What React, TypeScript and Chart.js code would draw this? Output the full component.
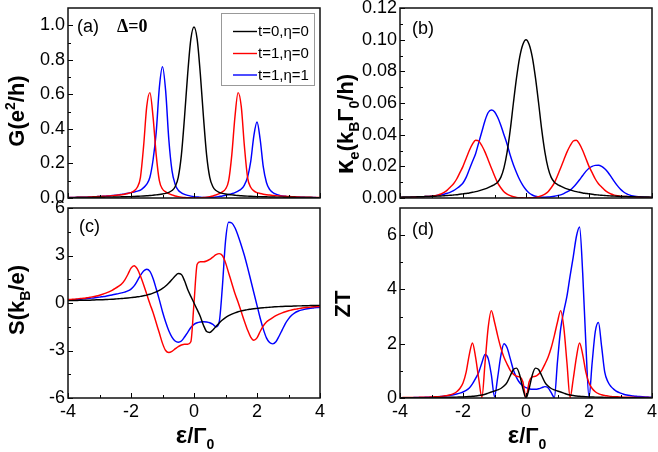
import React, { useEffect, useRef } from 'react';
import { Chart, registerables } from 'chart.js';
Chart.register(...registerables);

const W = 658;
const H = 452;
const FONT = '"Liberation Sans", Arial, sans-serif';
const SERIF = '"Liberation Serif", "Times New Roman", serif';

// energy grid ε/Γ0
const EPS = [-4, -3.9, -3.8, -3.7, -3.6, -3.5, -3.4, -3.3, -3.2, -3.1, -3, -2.9, -2.8, -2.7, -2.6, -2.5, -2.4, -2.3, -2.2, -2.1, -2, -1.9, -1.8, -1.7, -1.6, -1.5, -1.4, -1.3, -1.2, -1.1, -1, -0.9, -0.8, -0.7, -0.6, -0.5, -0.4, -0.3, -0.2, -0.1, 0, 0.1, 0.2, 0.3, 0.4, 0.5, 0.6, 0.7, 0.8, 0.9, 1, 1.1, 1.2, 1.3, 1.4, 1.5, 1.6, 1.7, 1.8, 1.9, 2, 2.1, 2.2, 2.3, 2.4, 2.5, 2.6, 2.7, 2.8, 2.9, 3, 3.1, 3.2, 3.3, 3.4, 3.5, 3.6, 3.7, 3.8, 3.9, 4];

const LEGEND = ['t=0,η=0', 't=1,η=0', 't=1,η=1'];
const COLORS = ['#000000', '#ff0000', '#0000ff'];

// (a) G (e^2/h)
const G_T0 = [.002, .002, .002, .003, .003, .003, .003, .003, .004, .004, .004, .004, .005, .005, .005, .006, .006, .007, .007, .008, .008, .009, .010, .011, .012, .013, .014, .016, .018, .020, .023, .027, .033, .043, .065, .12, .25, .47, .72, .92, .99, .92, .72, .47, .25, .12, .065, .043, .033, .027, .023, .020, .018, .016, .014, .013, .012, .011, .010, .009, .008, .008, .007, .007, .006, .006, .005, .005, .005, .004, .004, .004, .004, .003, .003, .003, .003, .003, .002, .002, .002];
const G_T1 = [.003, .003, .003, .004, .004, .005, .005, .006, .007, .008, .009, .010, .011, .012, .013, .015, .017, .019, .022, .026, .031, .041, .062, .12, .30, .53, .61, .47, .25, .10, .052, .035, .025, .018, .012, .008, .005, .003, .002, .001, 0, .001, .002, .003, .005, .008, .012, .018, .025, .035, .052, .10, .25, .47, .61, .53, .30, .12, .062, .041, .031, .026, .022, .019, .017, .015, .013, .012, .011, .010, .009, .008, .007, .006, .005, .005, .004, .004, .003, .003, .003];
const G_T1E1 = [.003, .003, .003, .004, .004, .005, .005, .006, .007, .008, .009, .010, .011, .012, .014, .016, .018, .021, .024, .028, .031, .035, .040, .046, .06, .08, .12, .22, .38, .64, .76, .62, .34, .16, .08, .045, .03, .021, .015, .011, .008, .006, .004, .003, .003, .003, .004, .006, .009, .012, .016, .020, .025, .031, .04, .052, .075, .12, .21, .36, .44, .34, .18, .09, .05, .032, .022, .016, .012, .010, .008, .007, .006, .005, .004, .004, .003, .003, .003, .002, .002];

// (b) κe (kB Γ0 / h)
const K_T0 = [.0005, .0006, .0006, .0006, .0007, .0007, .0008, .0008, .0009, .0009, .0010, .0011, .0012, .0013, .0014, .0016, .0017, .0019, .0021, .0024, .0026, .0029, .0032, .0036, .0040, .0045, .0051, .0058, .0066, .0075, .0085, .010, .013, .019, .029, .043, .060, .076, .089, .097, .100, .097, .089, .076, .060, .043, .029, .019, .013, .010, .0085, .0075, .0066, .0058, .0051, .0045, .0040, .0036, .0032, .0029, .0026, .0024, .0021, .0019, .0017, .0016, .0014, .0013, .0012, .0011, .0010, .0009, .0009, .0008, .0008, .0007, .0007, .0006, .0006, .0006, .0005];
const K_T1 = [.0003, .0003, .0004, .0004, .0005, .0006, .0007, .0008, .0009, .0010, .0012, .0014, .0018, .0025, .0035, .005, .007, .009, .012, .016, .020, .025, .030, .034, .0365, .036, .033, .029, .024, .019, .014, .0095, .0065, .004, .0025, .0015, .0008, .0004, .0002, .0001, 0, .0001, .0002, .0004, .0008, .0015, .0025, .004, .0065, .0095, .014, .019, .024, .029, .033, .036, .0365, .034, .030, .025, .020, .016, .012, .009, .007, .005, .0035, .0025, .0018, .0014, .0012, .0010, .0009, .0008, .0007, .0006, .0005, .0004, .0004, .0003, .0003];
const K_T1E1 = [.0003, .0003, .0004, .0004, .0005, .0006, .0007, .0008, .0009, .0010, .0012, .0014, .0017, .0020, .0024, .003, .0037, .0047, .006, .0075, .0095, .013, .018, .023, .028, .035, .042, .049, .054, .0556, .0545, .051, .046, .040, .034, .027, .021, .016, .0115, .008, .0052, .0032, .0019, .0011, .0007, .0005, .0005, .0006, .0008, .0011, .0015, .002, .0028, .0038, .005, .0068, .009, .0115, .0142, .0168, .0188, .0200, .0206, .0207, .0200, .0185, .0163, .0135, .0105, .0078, .0055, .0038, .0026, .0018, .0013, .001, .0008, .0006, .0005, .0004, .0003];

// (c) S (kB/e)
const S_T0 = [.15, .15, .16, .16, .17, .17, .18, .18, .19, .20, .20, .21, .22, .23, .24, .25, .27, .28, .30, .32, .34, .36, .39, .42, .46, .50, .55, .62, .70, .80, .92, 1.07, 1.26, 1.48, 1.70, 1.86, 1.80, 1.40, .85, .42, 0, -.42, -.85, -1.40, -1.80, -1.86, -1.70, -1.48, -1.26, -1.07, -.92, -.80, -.70, -.62, -.55, -.50, -.46, -.42, -.39, -.36, -.34, -.32, -.30, -.28, -.27, -.25, -.24, -.23, -.22, -.21, -.20, -.20, -.19, -.18, -.18, -.17, -.17, -.16, -.16, -.15, -.15];
const S_T1 = [.22, .23, .24, .26, .28, .30, .33, .36, .40, .44, .49, .55, .62, .70, .80, .92, 1.05, 1.2, 1.45, 1.8, 2.2, 2.35, 2.15, 1.7, 1.15, .55, -.05, -.6, -1.25, -1.9, -2.55, -3.0, -3.12, -3.05, -2.9, -2.75, -2.65, -2.6, -2.6, -2.45, 0, 2.45, 2.6, 2.6, 2.65, 2.75, 2.9, 3.05, 3.12, 3.0, 2.55, 1.9, 1.25, .6, .05, -.55, -1.15, -1.7, -2.15, -2.35, -2.2, -1.8, -1.45, -1.2, -1.05, -.92, -.8, -.7, -.62, -.55, -.49, -.44, -.40, -.36, -.33, -.30, -.28, -.26, -.24, -.23, -.22];
const S_T1E1 = [.18, .19, .21, .22, .24, .26, .28, .30, .32, .35, .37, .40, .43, .47, .51, .55, .59, .64, .69, .76, .88, 1.08, 1.40, 1.75, 2.02, 2.13, 2.0, 1.55, .9, .2, -.55, -1.2, -1.75, -2.15, -2.4, -2.48, -2.4, -2.15, -1.85, -1.55, -1.35, -1.25, -1.2, -1.18, -1.2, -1.25, -1.35, -1.5, -1.2, 1.0, 3.9, 5.1, 5.05, 4.75, 4.25, 3.65, 3.0, 2.25, 1.45, .65, -.15, -.95, -1.65, -2.2, -2.5, -2.58, -2.45, -2.1, -1.7, -1.3, -1.0, -.78, -.62, -.52, -.45, -.4, -.36, -.33, -.31, -.29, -.27];

// (d) ZT
const Z_T0 = [.006, .007, .007, .008, .008, .009, .010, .011, .012, .013, .014, .015, .017, .019, .021, .023, .026, .029, .032, .036, .040, .045, .052, .062, .075, .09, .11, .14, .18, .22, .26, .30, .35, .44, .58, .82, 1.05, 1.1, .85, .35, 0, .35, .85, 1.1, 1.05, .82, .58, .44, .35, .30, .26, .22, .18, .14, .11, .09, .075, .062, .052, .045, .040, .036, .032, .029, .026, .023, .021, .019, .017, .015, .014, .013, .012, .011, .010, .009, .008, .008, .007, .007, .006];
const Z_T1 = [.014, .015, .016, .018, .020, .022, .024, .027, .030, .033, .038, .043, .05, .06, .075, .09, .12, .16, .23, .35, .55, .95, 1.6, 2.03, 1.5, .7, .02, 1.3, 2.6, 3.22, 2.8, 2.3, 1.85, 1.5, 1.25, 1.02, .88, .80, .78, .6, 0, .6, .78, .80, .88, 1.02, 1.25, 1.5, 1.85, 2.3, 2.8, 3.22, 2.6, 1.3, .02, .7, 1.5, 2.03, 1.6, .95, .55, .35, .23, .16, .12, .09, .075, .06, .05, .043, .038, .033, .030, .027, .024, .022, .020, .018, .016, .015, .014];
const Z_T1E1 = [.009, .010, .011, .012, .014, .016, .018, .021, .025, .029, .034, .040, .048, .058, .070, .083, .10, .12, .145, .18, .22, .28, .37, .52, .72, .95, 1.3, 1.6, 1.45, .85, .05, .75, 1.55, 2.0, 1.85, 1.45, 1.03, .75, .56, .45, .38, .34, .32, .32, .34, .38, .42, .38, .2, .02, 1.35, 2.55, 3.2, 3.75, 4.5, 5.2, 5.95, 6.3, 4.6, 2.0, .03, 1.3, 2.45, 2.78, 1.9, .95, .6, .42, .31, .23, .18, .14, .11, .09, .075, .062, .052, .044, .038, .033, .028];

// axis ticks
const X_TICKS = [-4, -2, 0, 2, 4];
const X_LABELS = ['-4', '-2', '0', '2', '4'];
const X_MINOR = [-3, -1, 1, 3];
const G_TICKS = [0, 0.2, 0.4, 0.6, 0.8, 1.0];
const G_LABELS = ['0.0', '0.2', '0.4', '0.6', '0.8', '1.0'];
const G_MINOR = [0.1, 0.3, 0.5, 0.7, 0.9];
const K_TICKS = [0, 0.02, 0.04, 0.06, 0.08, 0.10, 0.12];
const K_LABELS = ['0.00', '0.02', '0.04', '0.06', '0.08', '0.10', '0.12'];
const K_MINOR = [0.01, 0.03, 0.05, 0.07, 0.09, 0.11];
const S_TICKS = [-6, -3, 0, 3, 6];
const S_LABELS = ['-6', '-3', '0', '3', '6'];
const S_MINOR = [-4.5, -1.5, 1.5, 4.5];
const Z_TICKS = [0, 2, 4, 6];
const Z_LABELS = ['0', '2', '4', '6'];
const Z_MINOR = [1, 3, 5];

type Seg = { t: string; size: number; dy?: number; bold?: boolean; family?: string };

function drawRich(ctx: CanvasRenderingContext2D, segs: Seg[], cx: number, cy: number, rot: number) {
  ctx.save();
  ctx.translate(cx, cy);
  ctx.rotate(rot);
  const fonts = segs.map(s => `${s.bold === false ? '' : 'bold '}${s.size}px ${s.family || FONT}`);
  let total = 0;
  const ws = segs.map((s, i) => { ctx.font = fonts[i]; const w = ctx.measureText(s.t).width; total += w; return w; });
  const main = Math.max(...segs.map(s => s.size));
  let x = -total / 2;
  ctx.textBaseline = 'alphabetic';
  ctx.textAlign = 'left';
  ctx.fillStyle = '#000';
  segs.forEach((s, i) => {
    ctx.font = fonts[i];
    ctx.fillText(s.t, x, main * 0.36 + (s.dy || 0));
    x += ws[i];
  });
  ctx.restore();
}

type PanelDef = {
  L: number; R: number; T: number; B: number; padL: number;
  yMin: number; yMax: number; yTicks: number[]; yLabels: string[]; yMinor: number[];
  showX: boolean;
  series: number[][];
  tag: string; tagX: number; tagY: number;
  yTitle: Seg[]; yTitleX: number; yTitleY: number;
  legend?: boolean; delta?: boolean;
};

const EPS_TITLE: Seg[] = [
  { t: 'ε', size: 24 },
  { t: '/Γ', size: 22 },
  { t: '0', size: 14, dy: 6 },
];

function decor(d: PanelDef) {
  return {
    id: 'decor',
    afterDraw(chart: any) {
      const ctx: CanvasRenderingContext2D = chart.ctx;
      const a = chart.chartArea;
      const xs = chart.scales.x;
      const ys = chart.scales.y;
      ctx.save();
      ctx.strokeStyle = '#000';
      ctx.lineWidth = 1;
      ctx.beginPath();
      const xt = (v: number, len: number) => {
        const p = Math.round(xs.getPixelForValue(v)) + 0.5;
        ctx.moveTo(p, a.bottom); ctx.lineTo(p, a.bottom - len);
      };
      const yt = (v: number, len: number) => {
        const p = Math.round(ys.getPixelForValue(v)) + 0.5;
        ctx.moveTo(a.left, p); ctx.lineTo(a.left + len, p);
      };
      X_TICKS.forEach(v => xt(v, 5));
      X_MINOR.forEach(v => xt(v, 3));
      d.yTicks.forEach(v => yt(v, 5));
      d.yMinor.forEach(v => yt(v, 3));
      ctx.stroke();
      ctx.lineWidth = 1.5;
      ctx.strokeStyle = '#111';
      ctx.strokeRect(a.left, a.top, a.right - a.left, a.bottom - a.top);

      ctx.fillStyle = '#000';
      ctx.textBaseline = 'middle';
      ctx.textAlign = 'left';
      ctx.font = `18px ${FONT}`;
      ctx.fillText(d.tag, d.tagX, d.tagY);
      if (d.delta) {
        ctx.font = `bold 18px ${SERIF}`;
        ctx.fillText('Δ=0', 117, 27);
      }
      if (d.legend) {
        ctx.strokeStyle = '#999';
        ctx.lineWidth = 1;
        ctx.strokeRect(221.5, 13.5, 93, 72);
        const rows = [31.5, 53.5, 75];
        ctx.font = `15px ${FONT}`;
        rows.forEach((ry, i) => {
          ctx.strokeStyle = COLORS[i];
          ctx.lineWidth = 1.4;
          ctx.beginPath();
          ctx.moveTo(233, ry); ctx.lineTo(257, ry);
          ctx.stroke();
          ctx.fillStyle = '#000';
          ctx.fillText(LEGEND[i], 258, ry + 0.5);
        });
      }
      drawRich(ctx, d.yTitle, d.yTitleX, d.yTitleY, -Math.PI / 2);
      if (d.showX) {
        drawRich(ctx, EPS_TITLE, (a.left + a.right) / 2 + 1, 434, 0);
      }
      ctx.restore();
    },
  };
}

function buildConfig(d: PanelDef): any {
  const datasets = d.series.map((vals, si) => ({
    label: LEGEND[si],
    data: EPS.map((x, i) => ({ x, y: vals[i] })),
    borderColor: COLORS[si],
    borderWidth: 1.45,
    pointRadius: 0,
    fill: false,
    cubicInterpolationMode: 'monotone',
  }));
  const xH = d.showX ? H - d.B : 0;
  return {
    type: 'line',
    data: { datasets },
    options: {
      responsive: false,
      animation: false,
      devicePixelRatio: 1,
      events: [],
      layout: { padding: { left: d.padL, right: W - d.R, top: d.T, bottom: d.showX ? 0 : H - d.B } },
      plugins: { legend: { display: false }, tooltip: { enabled: false } },
      scales: {
        x: {
          type: 'linear', min: -4, max: 4,
          grid: { display: false, drawTicks: false },
          border: { display: false },
          ticks: {
            display: d.showX, font: { family: FONT, size: 18 }, color: '#000', padding: 3,
            maxRotation: 0, autoSkip: false,
            callback: (_v: any, i: number) => X_LABELS[i],
          },
          afterBuildTicks: (s: any) => { s.ticks = X_TICKS.map(value => ({ value })); },
          afterFit: (s: any) => { s.height = xH; s.paddingLeft = 0; s.paddingRight = 0; },
        },
        y: {
          type: 'linear', min: d.yMin, max: d.yMax,
          grid: { display: false, drawTicks: false },
          border: { display: false },
          ticks: {
            font: { family: FONT, size: 18 }, color: '#000', padding: 3, autoSkip: false,
            callback: (_v: any, i: number) => d.yLabels[i],
          },
          afterBuildTicks: (s: any) => { s.ticks = d.yTicks.map(value => ({ value })); },
          afterFit: (s: any) => { s.width = d.L - d.padL; s.paddingTop = 0; s.paddingBottom = 0; },
        },
      },
    },
    plugins: [decor(d)],
  };
}

const PANELS: PanelDef[] = [
  {
    L: 68, R: 320, T: 8, B: 198, padL: 0,
    yMin: 0, yMax: 1.1, yTicks: G_TICKS, yLabels: G_LABELS, yMinor: G_MINOR,
    showX: false, series: [G_T0, G_T1, G_T1E1],
    tag: '(a)', tagX: 77, tagY: 27.5,
    yTitle: [{ t: 'G(e', size: 22 }, { t: '2', size: 14, dy: -9 }, { t: '/h)', size: 22 }],
    yTitleX: 16, yTitleY: 111, legend: true, delta: true,
  },
  {
    L: 400, R: 652, T: 8, B: 198, padL: 330,
    yMin: 0, yMax: 0.12, yTicks: K_TICKS, yLabels: K_LABELS, yMinor: K_MINOR,
    showX: false, series: [K_T0, K_T1, K_T1E1],
    tag: '(b)', tagX: 412, tagY: 29.5,
    yTitle: [
      { t: 'κ', size: 26 }, { t: 'e', size: 15, dy: 6 }, { t: '(k', size: 22 }, { t: 'B', size: 14, dy: 6 },
      { t: 'Γ', size: 22 }, { t: '0', size: 14, dy: 6 }, { t: '/h)', size: 22 },
    ],
    yTitleX: 344, yTitleY: 124,
  },
  {
    L: 68, R: 320, T: 208, B: 398, padL: 0,
    yMin: -6, yMax: 6, yTicks: S_TICKS, yLabels: S_LABELS, yMinor: S_MINOR,
    showX: true, series: [S_T0, S_T1, S_T1E1],
    tag: '(c)', tagX: 79, tagY: 227,
    yTitle: [{ t: 'S(k', size: 22 }, { t: 'B', size: 14, dy: 6 }, { t: '/e)', size: 22 }],
    yTitleX: 16, yTitleY: 300,
  },
  {
    L: 400, R: 652, T: 208, B: 398, padL: 330,
    yMin: 0, yMax: 7, yTicks: Z_TICKS, yLabels: Z_LABELS, yMinor: Z_MINOR,
    showX: true, series: [Z_T0, Z_T1, Z_T1E1],
    tag: '(d)', tagX: 412, tagY: 230,
    yTitle: [{ t: 'ZT', size: 22 }],
    yTitleX: 342, yTitleY: 304,
  },
];

function Panel({ def }: { def: PanelDef }) {
  const ref = useRef<HTMLCanvasElement>(null);
  useEffect(() => {
    const chart = new Chart(ref.current as HTMLCanvasElement, buildConfig(def));
    return () => chart.destroy();
  }, [def]);
  return (
    <canvas
      ref={ref}
      width={W}
      height={H}
      style={{ position: 'absolute', left: 0, top: 0, width: W, height: H }}
    />
  );
}

export default function App() {
  return (
    <div style={{ position: 'absolute', left: 0, top: 0, width: W, height: H, background: '#fff' }}>
      {PANELS.map((p, i) => <Panel key={i} def={p} />)}
    </div>
  );
}
